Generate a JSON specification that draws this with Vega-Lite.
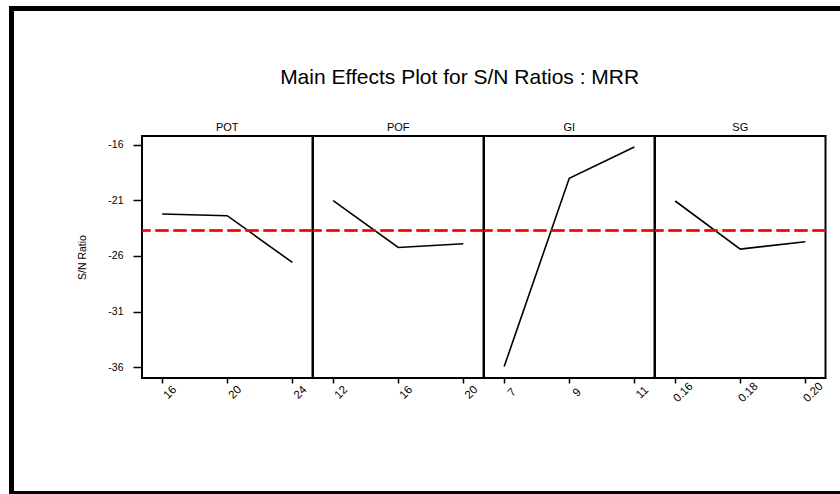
{
  "$schema": "https://vega.github.io/schema/vega-lite/v6.json",
  "padding": {"left": 9, "top": 6, "right": 0, "bottom": 0},
  "background": "white",
  "spacing": 0,
  "config": {
    "font": "Liberation Sans",
    "view": {"stroke": "black", "strokeWidth": 2},
    "axis": {"grid": false, "domain": false, "tickColor": "black", "tickWidth": 1.5, "labelColor": "black", "titleColor": "black", "labelFont": "Liberation Sans", "titleFont": "Liberation Sans"}
  },
  "hconcat": [
    {
      "width": 5, "height": 500,
      "data": {"values": []},
      "mark": "rect",
      "encoding": {},
      "view": {"fill": "black", "stroke": null}
    },
    {
      "spacing": 0,
      "vconcat": [
        {
          "width": 840, "height": 5,
          "data": {"values": []},
          "mark": "rect",
          "encoding": {},
          "view": {"fill": "black", "stroke": null}
        },
        {
          "width": 1, "height": 55,
          "data": {"values": []},
          "mark": "rect",
          "encoding": {},
          "view": {"stroke": null}
        },
        {
          "spacing": 0,
          "hconcat": [
            {
              "width": 63, "height": 1,
              "data": {"values": []},
              "mark": "rect",
              "encoding": {},
              "view": {"stroke": null}
            },
            {
              "title": {"text": "Main Effects Plot for S/N Ratios : MRR", "fontSize": 21, "fontWeight": "normal", "font": "Liberation Sans", "color": "black", "anchor": "middle", "frame": "bounds", "dx": 7, "offset": 34.5},
              "data": {"values": [
                {"Factor": "POT", "Level": "16", "L": 1, "SN": -22.23},
                {"Factor": "POT", "Level": "20", "L": 2, "SN": -22.38},
                {"Factor": "POT", "Level": "24", "L": 3, "SN": -26.58},
                {"Factor": "POF", "Level": "12", "L": 1, "SN": -21.03},
                {"Factor": "POF", "Level": "16", "L": 2, "SN": -25.23},
                {"Factor": "POF", "Level": "20", "L": 3, "SN": -24.90},
                {"Factor": "GI", "Level": "7", "L": 1, "SN": -35.93},
                {"Factor": "GI", "Level": "9", "L": 2, "SN": -19.02},
                {"Factor": "GI", "Level": "11", "L": 3, "SN": -16.20},
                {"Factor": "SG", "Level": "0.16", "L": 1, "SN": -21.06},
                {"Factor": "SG", "Level": "0.18", "L": 2, "SN": -25.38},
                {"Factor": "SG", "Level": "0.20", "L": 3, "SN": -24.72}
              ]},
              "facet": {
                "column": {
                  "field": "Factor", "type": "nominal", "sort": ["POT", "POF", "GI", "SG"],
                  "header": {"title": null, "labelFontSize": 11, "labelFont": "Liberation Sans", "labelColor": "black", "labelPadding": 3}
                }
              },
              "spacing": 0,
              "bounds": "flush",
              "spec": {
                "width": 170.5,
                "height": 242,
                "layer": [
                  {
                    "mark": {"type": "line", "color": "black", "strokeWidth": 1.6},
                    "encoding": {
                      "x": {
                        "field": "Level", "type": "ordinal", "sort": {"field": "L", "op": "min"},
                        "scale": {"type": "point", "padding": 0.31},
                        "axis": {"title": null, "labelAngle": -45, "labelAlign": "center", "labelBaseline": "top", "labelPadding": 5, "labelOffset": 3.5, "tickSize": 5, "labelFontSize": 11.5}
                      },
                      "y": {
                        "field": "SN", "type": "quantitative",
                        "scale": {"domain": [-36.96, -15.22], "nice": false, "zero": false},
                        "axis": {"title": "S/N Ratio", "values": [-16, -21, -26, -31, -36], "labelExpr": "'' + datum.value", "tickSize": 9, "labelPadding": 10, "labelFontSize": 10.5, "titleFontSize": 10.5, "titleFontWeight": "normal", "titlePadding": 20}
                      }
                    }
                  },
                  {
                    "mark": {"type": "rule", "color": "#ff0000", "strokeWidth": 2, "strokeDash": [13, 5]},
                    "encoding": {"y": {"datum": -23.72}}
                  }
                ]
              },
              "resolve": {"scale": {"x": "independent"}}
            }
          ]
        },
        {
          "width": 1, "height": 85,
          "data": {"values": []},
          "mark": "rect",
          "encoding": {},
          "view": {"stroke": null}
        },
        {
          "width": 840, "height": 10,
          "data": {"values": []},
          "mark": "rect",
          "encoding": {},
          "view": {"fill": "black", "stroke": null}
        }
      ]
    }
  ]
}
